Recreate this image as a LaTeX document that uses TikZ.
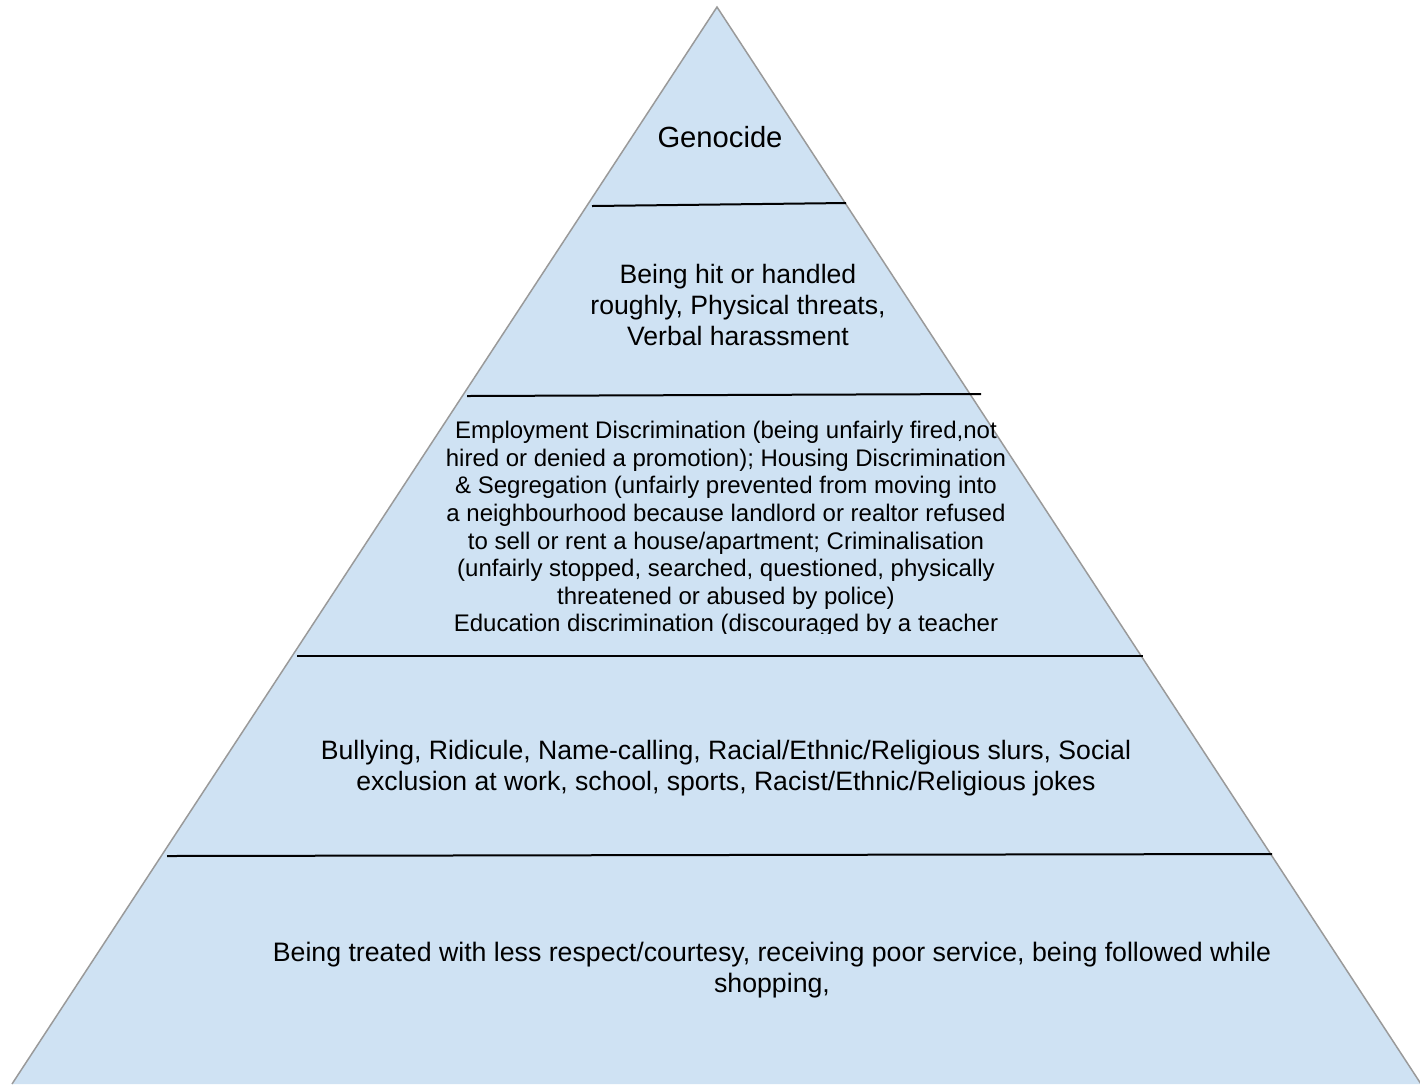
\documentclass[tikz,border=0pt]{standalone}
\usepackage{fontspec}
\setmainfont{Liberation Sans}

\definecolor{layerblue}{HTML}{CFE2F3}
\definecolor{edgegray}{HTML}{9A9A9A}

\tikzset{
  layer/.style={align=center, inner sep=0pt, font=\fontsize{13.3}{15.3}\selectfont},
  divider/.style={black, line width=1pt},
}

\begin{document}
\begin{tikzpicture}[x=0.5pt, y=-0.5pt]
                \useasboundingbox (0,0) rectangle (1420,1084);
                \coordinate (apex) at (717,7);
                \coordinate (left) at (12,1084);
                \coordinate (right) at (1421,1084);

                % pyramid body
                \fill[layerblue] (apex) -- (left) -- (right) -- cycle;
                \draw[edgegray, line width=0.75pt] (left) -- (apex) -- (right);

                % layer dividers
                \foreach \xa/\ya/\xb/\yb in {592/206/846/203, 467/396/981/394, 297/656/1143/656, 167/856/1272/854} {
                        \draw[divider] (\xa,\ya) -- (\xb,\yb);
                    }

                \node[layer, font=\fontsize{14.6}{16.8}\selectfont] (genocide) at (720,137) {Genocide};
                \node[layer] (violence) at (738,305) {Being hit or handled\\roughly, Physical threats,\\Verbal harassment};
                \begin{scope}
                        \clip (0,400) rectangle (1420,633);
                        \node[layer, font=\fontsize{12}{13.8}\selectfont] (discrimination) at (726,529) {Employment Discrimination (being unfairly fired,not\\hired or denied a promotion); Housing Discrimination\\\& Segregation (unfairly prevented from moving into\\a neighbourhood because landlord or realtor refused\\to sell or rent a house/apartment; Criminalisation\\(unfairly stopped, searched, questioned, physically\\threatened or abused by police)\\Education discrimination (discouraged by a teacher};
                    \end{scope}
                \node[layer] (prejudice) at (726,768) {Bullying, Ridicule, Name-calling, Racial/Ethnic/Religious slurs, Social\\exclusion at work, school, sports, Racist/Ethnic/Religious jokes};
                \node[layer, font=\fontsize{13.35}{15.4}\selectfont] (bias) at (772,970) {Being treated with less respect/courtesy, receiving poor service, being followed while\\shopping,};
            \end{tikzpicture}
\end{document}
